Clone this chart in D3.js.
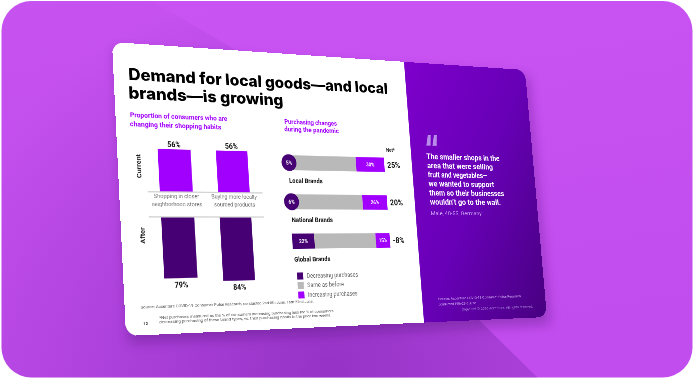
<!DOCTYPE html>
<html><head><meta charset="utf-8">
<script src="https://cdn.jsdelivr.net/npm/d3@7"></script>
<style>
html,body{margin:0;padding:0;width:694px;height:380px;overflow:hidden;background:#fff}
#bg{position:absolute;left:0;top:0}
#slide{position:absolute;left:0;top:0;width:960px;height:540px;transform-origin:0 0}
#slide svg{display:block}
</style></head><body>
<svg id="bg" width="694" height="380"></svg>
<div id="slide"><svg id="s" width="960" height="540"></svg></div>
<script>
// ---------------- data ----------------
const titleLines = ["Demand for local goods\u2014and local", "brands\u2014is growing"];
const leftSubtitle = ["Proportion of consumers who are", "changing their shopping habits"];
const rightSubtitle = ["Purchasing changes", "during the pandemic"];
const habitCategories = ["Shopping in closer|neighborhood stores", "Buying more locally|sourced products"];
const currentShare = [56, 56];
const afterShare = [79, 84];
const periods = ["Current", "After"];
const brands = ["Local Brands", "National Brands", "Global Brands"];
const decreasing = [5, 6, 22];
const sameAsBefore = [65, 68, 63];
const increasing = [30, 26, 15];
const netChange = [25, 20, -8];
const legendLabels = ["Decreasing purchases", "Same as before", "Increasing purchases"];
const quoteLines = ["The smaller shops in the", "area that were selling", "fruit and vegetables\u2014",
  "we wanted to support", "them so their businesses", "wouldn\u2019t go to the wall."];
const quoteAttribution = "Male, 40-55, Germany";

// ---------------- perspective (flat slide -> picture) ----------------
const W = 960, H = 540;
const Q = [[112, 42], [525, 70], [547, 317], [126, 336]];
const [x0, y0] = Q[0], [x1, y1] = Q[1], [x2, y2] = Q[2], [x3, y3] = Q[3];
const dx1 = x1 - x2, dx2 = x3 - x2, dx3 = x0 - x1 + x2 - x3;
const dy1 = y1 - y2, dy2 = y3 - y2, dy3 = y0 - y1 + y2 - y3;
const den = dx1 * dy2 - dx2 * dy1;
const pg_ = (dx3 * dy2 - dx2 * dy3) / den, ph_ = (dx1 * dy3 - dx3 * dy1) / den;
const pa = x1 - x0 + pg_ * x1, pb = x3 - x0 + ph_ * x3, pc = x0;
const pd = y1 - y0 + pg_ * y1, pe = y3 - y0 + ph_ * y3, pf = y0;
document.getElementById("slide").style.transform =
  `matrix3d(${pa / W},${pd / W},0,${pg_ / W},${pb / H},${pe / H},0,${ph_ / H},0,0,1,0,${pc},${pf},0,1)`;
function fwd(X, Y) { const u = X / W, v = Y / H, w = pg_ * u + ph_ * v + 1; return [(pa * u + pb * v + pc) / w, (pd * u + pe * v + pf) / w]; }
function inv(x, y) {
  const A1 = pa - pg_ * x, B1 = pb - ph_ * x, C1 = x - pc, A2 = pd - pg_ * y, B2 = pe - ph_ * y, C2 = y - pf;
  const D = A1 * B2 - B1 * A2;
  return [(C1 * B2 - B1 * C2) / D * W, (A1 * C2 - C1 * A2) / D * H];
}
function vs(x, y) { const [X, Y] = inv(x, y); const p = fwd(X, Y - 5), q = fwd(X, Y + 5); return Math.hypot(q[0] - p[0], q[1] - p[1]) / 10; }
const fs = (px, x, y) => px / vs(x, y);

const FONT = 'Roboto, "Noto Sans", sans-serif';
function put(sel, str, x, y, px, o = {}) {
  const [X, Y] = inv(x, y);
  const t = sel.append("text").attr("x", X).attr("y", Y).attr("font-size", fs(px, x, y).toFixed(2))
    .attr("font-family", o.font || FONT).attr("font-weight", o.w || 400).attr("fill", o.fill || "#111")
    .attr("text-anchor", o.anchor || "start").text(str);
  if (!o.base) t.attr("dy", "0.35em");
  if (o.x2 != null) { const [X2] = inv(o.x2, y); t.attr("textLength", (X2 - X).toFixed(1)).attr("lengthAdjust", "spacingAndGlyphs"); }
  return t;
}

// ---------------- background card ----------------
const bg = d3.select("#bg"), bd = bg.append("defs");
const cg = bd.append("linearGradient").attr("id", "cg").attr("x1", 0).attr("y1", 0).attr("x2", 0.3).attr("y2", 1);
cg.append("stop").attr("offset", 0).attr("stop-color", "#ca54f3");
cg.append("stop").attr("offset", 1).attr("stop-color", "#c24dee");
bd.append("clipPath").attr("id", "cc").append("rect").attr("x", 1.5).attr("y", 1).attr("width", 691).attr("height", 376.5).attr("rx", 30);
const sgr = bd.append("radialGradient").attr("id", "sg").attr("gradientUnits", "userSpaceOnUse").attr("cx", 330).attr("cy", 372).attr("r", 400);
sgr.append("stop").attr("offset", 0).attr("stop-color", "#6a1a9e").attr("stop-opacity", 0.5);
sgr.append("stop").attr("offset", 0.6).attr("stop-color", "#6a1a9e").attr("stop-opacity", 0.22);
sgr.append("stop").attr("offset", 1).attr("stop-color", "#6a1a9e").attr("stop-opacity", 0.04);
const fl = bd.append("filter").attr("id", "bl").attr("x", "-20%").attr("y", "-20%").attr("width", "140%").attr("height", "140%");
fl.append("feGaussianBlur").attr("stdDeviation", 6);
const cb = bg.append("g").attr("clip-path", "url(#cc)");
cb.append("rect").attr("width", 694).attr("height", 380).attr("fill", "url(#cg)");
cb.append("path").attr("d", "M150,0 L260,64 L481,322 L540,380 L0,380 L0,0Z").attr("fill", "url(#sg)");
cb.append("path").attr("d", "M" + Q.map(p => [p[0] + 3, p[1] + 7]).join("L") + "Z")
  .attr("fill", "#4a0f70").attr("opacity", 0.35).attr("filter", "url(#bl)");

// ---------------- slide ----------------
const S = d3.select("#s"), defs = S.append("defs");
defs.append("clipPath").attr("id", "sc").append("rect").attr("width", W).attr("height", H).attr("rx", 22);
const pgr = defs.append("linearGradient").attr("id", "pg").attr("x1", 0).attr("y1", 0).attr("x2", 1).attr("y2", 1);
pgr.append("stop").attr("offset", 0).attr("stop-color", "#7e00cc");
pgr.append("stop").attr("offset", 0.5).attr("stop-color", "#6700b6");
pgr.append("stop").attr("offset", 1).attr("stop-color", "#470080");
const SPLIT = W * 0.67;
const root = S.append("g").attr("clip-path", "url(#sc)");
root.append("rect").attr("width", W).attr("height", H).attr("fill", "#fff");
root.append("rect").attr("x", SPLIT).attr("width", W - SPLIT).attr("height", H).attr("fill", "url(#pg)");

// title & subtitles
put(root, titleLines[0], 128.7, 80, 16.5, { base: 1, w: 800, font: "Inter, Roboto, sans-serif", x2: 387, fill: "#000" });
put(root, titleLines[1], 128.7, 98.3, 16.5, { base: 1, w: 800, font: "Inter, Roboto, sans-serif", x2: 283, fill: "#000" });
put(root, leftSubtitle[0], 130, 115, 6.4, { w: 700, fill: "#a100ff", x2: 227 });
put(root, leftSubtitle[1], 130, 124, 6.4, { w: 700, fill: "#a100ff", x2: 221 });
put(root, rightSubtitle[0], 284.3, 121.7, 6.2, { w: 700, fill: "#a100ff", x2: 336.7 });
put(root, rightSubtitle[1], 284.3, 129.3, 6.2, { w: 700, fill: "#a100ff", x2: 338.7 });

// ---------------- left chart: current vs after ----------------
const gl = root.append("g");
const Lx0 = inv(158.8, 172)[0], Lx1 = inv(248.5, 172)[0];
const xB = d3.scaleBand().domain(habitCategories).range([Lx0, Lx1]).paddingInner(0.44);
const axC = inv(205, 192.3)[1], axA = inv(205, 217)[1];
const kf = 0.76 / vs(205, 205);
const yC = d3.scaleLinear().domain([0, 100]).range([axC, axC - 100 * kf]);
const yA = d3.scaleLinear().domain([0, 100]).range([axA, axA + 100 * kf]);
const bw = xB.bandwidth();
const valFs = fs(7.6, 200, 200), catFs = fs(5.9, 200, 200);

gl.selectAll("rect.cur").data(currentShare).join("rect").attr("class", "cur")
  .attr("x", (d, i) => xB(habitCategories[i])).attr("width", bw)
  .attr("y", d => yC(d)).attr("height", d => yC(0) - yC(d)).attr("fill", "#a100ff");
gl.selectAll("rect.aft").data(afterShare).join("rect").attr("class", "aft")
  .attr("x", (d, i) => xB(habitCategories[i])).attr("width", bw)
  .attr("y", yA(0)).attr("height", d => yA(d) - yA(0)).attr("fill", "#460073");
gl.selectAll("text.cv").data(currentShare).join("text").attr("class", "cv")
  .attr("x", (d, i) => xB(habitCategories[i]) + bw / 2).attr("y", d => yC(d) - 9).attr("dy", "0.35em")
  .attr("text-anchor", "middle").attr("font-family", FONT).attr("font-weight", 700).attr("font-size", valFs)
  .attr("fill", "#111").text(d => d + "%");
gl.selectAll("text.av").data(afterShare).join("text").attr("class", "av")
  .attr("x", (d, i) => xB(habitCategories[i]) + bw / 2).attr("y", d => yA(d) + 12).attr("dy", "0.35em")
  .attr("text-anchor", "middle").attr("font-family", FONT).attr("font-weight", 700).attr("font-size", valFs)
  .attr("fill", "#111").text(d => d + "%");
// axis lines
const axL = inv(147.7, 192.3)[0], axR = inv(262.5, 192.3)[0];
[axC, axA].forEach(y => gl.append("line").attr("x1", axL).attr("x2", axR).attr("y1", y).attr("y2", y)
  .attr("stroke", "#cfcfcf").attr("stroke-width", 2.2));
// category labels
const cl1 = inv(200, 196.3)[1], cl2 = inv(200, 204.3)[1];
habitCategories.forEach(c => {
  c.split("|").forEach((ln, j) => gl.append("text").attr("x", xB(c) + bw / 2).attr("y", j ? cl2 : cl1).attr("dy", "0.35em")
    .attr("text-anchor", "middle").attr("font-family", FONT).attr("font-size", catFs).attr("fill", "#6e6e6e").text(ln));
});
// period labels
const perPos = [inv(138.6, 166), inv(142.3, 235.5)];
gl.selectAll("text.per").data(periods).join("text").attr("class", "per")
  .attr("transform", (d, i) => `translate(${perPos[i][0]},${perPos[i][1]}) rotate(-90)`)
  .attr("dy", "0.35em").attr("text-anchor", "middle").attr("font-family", FONT).attr("font-weight", 700)
  .attr("font-size", fs(7.2, 140, 200)).attr("fill", "#222").text(d => d);

// ---------------- right chart: stacked horizontal bars ----------------
const gr = root.append("g");
const rows = brands.map((b, i) => ({ brand: b, dec: decreasing[i], same: sameAsBefore[i], inc: increasing[i], net: netChange[i] }));
const keys = ["dec", "same", "inc"];
const colors = { dec: "#460073", same: "#b9b9b9", inc: "#a100ff" };
const series = d3.stack().keys(keys)(rows);
const xH = d3.scaleLinear().domain([0, 100]).range([inv(292.3, 240.8)[0], inv(390, 240.8)[0]]);
const yH = d3.scalePoint().domain(brands).range([inv(340, 163.8)[1], inv(340, 240.8)[1]]);
const bh = 14.8 / vs(340, 200);
series.forEach(s => {
  gr.selectAll(null).data(s).join("rect")
    .attr("x", d => xH(d[0])).attr("width", d => xH(d[1]) - xH(d[0]))
    .attr("y", d => yH(d.data.brand) - bh / 2).attr("height", bh).attr("fill", colors[s.key]);
});
const inFs = fs(5.2, 340, 200);
const smallDec = rows.filter(r => r.dec < 10);
gr.selectAll("circle.badge").data(smallDec).join("circle").attr("class", "badge")
  .attr("cx", xH(0) + 4).attr("cy", d => yH(d.brand)).attr("r", bh * 0.56).attr("fill", colors.dec);
gr.selectAll("text.dv").data(rows).join("text").attr("class", "dv")
  .attr("x", d => d.dec < 10 ? xH(0) + 4 : xH(d.dec / 2)).attr("y", d => yH(d.brand)).attr("dy", "0.35em")
  .attr("text-anchor", "middle").attr("font-family", FONT).attr("font-weight", 700).attr("font-size", inFs)
  .attr("fill", "#fff").text(d => d.dec + "%");
gr.selectAll("text.iv").data(rows).join("text").attr("class", "iv")
  .attr("x", d => xH(100 - d.inc / 2)).attr("y", d => yH(d.brand)).attr("dy", "0.35em")
  .attr("text-anchor", "middle").attr("font-family", FONT).attr("font-weight", 700).attr("font-size", inFs)
  .attr("fill", "#fff").text(d => d.inc + "%");
gr.selectAll("text.nv").data(rows).join("text").attr("class", "nv")
  .attr("x", xH(100) + 7).attr("y", d => yH(d.brand)).attr("dy", "0.35em")
  .attr("font-family", FONT).attr("font-weight", 700).attr("font-size", fs(8, 395, 200))
  .attr("fill", "#111").text(d => d.net + "%");
gr.append("text").attr("x", xH(100) + 7).attr("y", inv(392, 150)[1]).attr("dy", "0.35em")
  .attr("font-family", FONT).attr("font-weight", 700).attr("font-size", fs(5, 395, 150)).attr("fill", "#222").text("Net*");
const bLab = inv(291.7, 220);
const bOff = bLab[1] - yH(brands[1]);
gr.selectAll("text.bl").data(brands).join("text").attr("class", "bl")
  .attr("x", bLab[0]).attr("y", d => yH(d) + bOff).attr("dy", "0.35em")
  .attr("font-family", FONT).attr("font-weight", 700).attr("font-size", fs(6.6, 300, 220)).attr("fill", "#111").text(d => d);

// legend
const lgX = inv(297.7, 285.7)[0];
const yL = d3.scalePoint().domain(legendLabels).range([inv(301, 276)[1], inv(301, 295)[1]]);
const sq = 7 / vs(301, 285);
const lgCols = [colors.dec, colors.same, colors.inc];
gr.selectAll("rect.lg").data(legendLabels).join("rect").attr("class", "lg")
  .attr("x", lgX).attr("y", d => yL(d) - sq / 2).attr("width", sq).attr("height", sq).attr("fill", (d, i) => lgCols[i]);
const lgTx = inv(307.3, 285.7)[0];
gr.selectAll("text.lg").data(legendLabels).join("text").attr("class", "lg")
  .attr("x", lgTx).attr("y", d => yL(d)).attr("dy", "0.35em").attr("font-family", FONT)
  .attr("font-size", fs(6.1, 320, 285)).attr("fill", "#666").text(d => d);

// slide footer
put(root, "Source: Accenture COVID-19 Consumer Pulse Research, conducted 2nd-8th June, 16th-22nd June.", 140.7, 307.3, 3.8, { fill: "#555", x2: 314 });
put(root, "12", 143.3, 323.5, 4.4, { w: 700, fill: "#333" });
put(root, "*Net purchases measured as the % of consumers increasing purchasing less the % of consumers", 159.3, 317.7, 3.5, { fill: "#555", x2: 334 });
put(root, "decreasing purchasing of these brand types, vs. their purchasing habits in the prior two weeks.", 159.3, 322.3, 3.5, { fill: "#555", x2: 331.7 });

// ---------------- quote panel ----------------
const gq = root.append("g");
put(gq, "\u201C", 425.5, 158.5, 33, { base: 1, w: 900, fill: "#b98ce9", font: 'Inter, "DejaVu Sans", sans-serif', x2: 439.5 });
const qX = inv(426.5, 157.3)[0];
const yQ = d3.scalePoint().domain(d3.range(quoteLines.length)).range([inv(460, 157.3)[1], inv(460, 202)[1]]);
const qEnds = [499.3, 492.7, 487.3, 494, 504, 500.7];
gq.selectAll("text.q").data(quoteLines).join("text").attr("class", "q")
  .attr("x", qX).attr("y", (d, i) => yQ(i)).attr("dy", "0.35em").attr("font-family", FONT).attr("font-weight", 700)
  .attr("font-size", fs(7.4, 460, 180)).attr("fill", "#fff")
  .attr("textLength", (d, i) => { const p = fwd(qX, yQ(i)); return inv(qEnds[i], p[1])[0] - qX; })
  .attr("lengthAdjust", "spacingAndGlyphs").text(d => d);
put(gq, quoteAttribution, 430.7, 213.3, 5.4, { fill: "#c9a3f0", x2: 481.7 });
put(gq, "Source: Accenture COVID-19 Consumer Pulse Research,", 438.3, 299, 3.5, { fill: "#cfb0f2", x2: 521.7 });
put(gq, "conducted 19th-23rd June", 438.7, 304.3, 3.5, { fill: "#cfb0f2", x2: 476 });
put(gq, "Copyright \u00A9 2020 Accenture. All rights reserved.", 461.7, 309.3, 3.3, { fill: "#a983db", x2: 533.3 });
</script>
</body></html>
